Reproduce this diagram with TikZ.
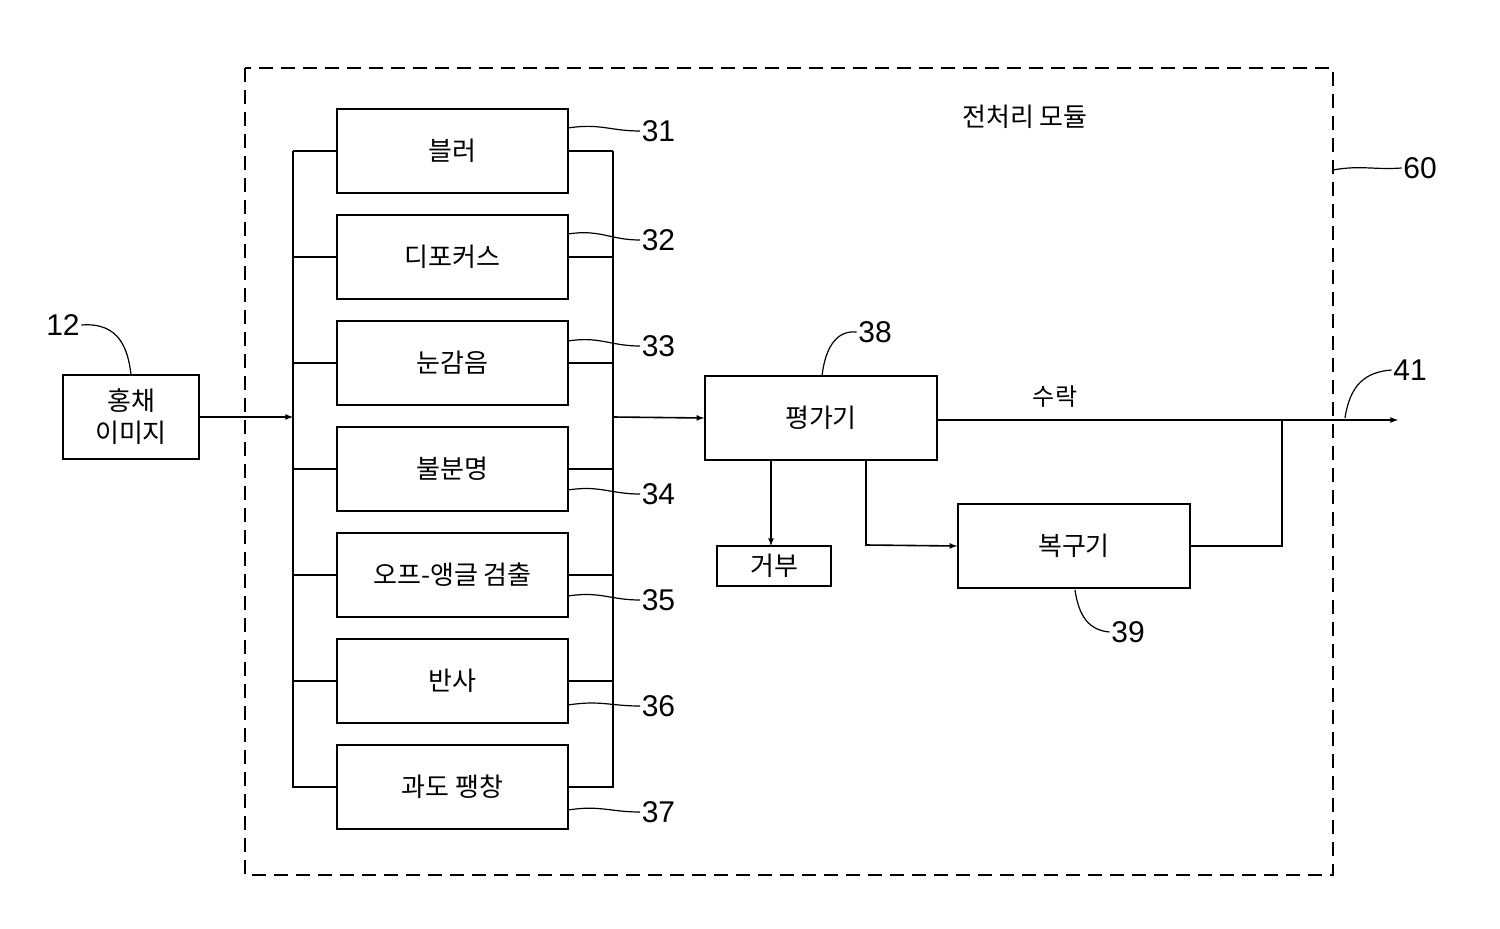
\documentclass[tikz,border=0pt]{standalone}
\usepackage{fontspec}
\setmainfont{Liberation Sans}
\newfontfamily\kr{Noto Sans CJK KR}
\begin{document}
\begin{tikzpicture}[x=1pt,y=-1pt,line width=1.6pt,
  box/.style={draw,minimum width=231pt,minimum height=84pt,inner sep=0pt,font=\kr\fontsize{26}{30}\selectfont},
  num/.style={font=\fontsize{30}{32}\selectfont,inner sep=1pt},
  lead/.style={line width=1.2pt},
  arr/.style={-latex}]
\useasboundingbox (0,0) rectangle (1500,929);
\draw[dashed,dash pattern=on 14pt off 8pt] (245,68) rectangle (1333,875);
\node[font=\kr\fontsize{26}{30}\selectfont] (title) at (1025,117) {전처리 모듈};
\node[draw,minimum width=136pt,minimum height=84pt,align=center,inner sep=0pt,font=\kr\fontsize{26}{32}\selectfont] (img) at (131,417) {홍채\\이미지};
\foreach \i/\t [count=\k from 0] in {31/블러,32/디포커스,33/눈감음,34/불분명,35/오프-앵글 검출,36/반사,37/과도 팽창}{
  \node[box] (b\i) at (452.5,{151+106*\k}) {\t};
  \draw (293,{151+106*\k}) -- (b\i.west);
  \draw (b\i.east) -- (613,{151+106*\k});
}
\draw (293,151) -- (293,788);
\draw (613,151) -- (613,788);
\coordinate (busL) at (293,417);
\coordinate (busR) at (613,417);
\draw[arr] (img.east) -- (busL);
\node[draw,minimum width=232pt,minimum height=84pt,inner sep=0pt,font=\kr\fontsize{26}{30}\selectfont] (ev) at (821,418) {평가기};
\draw[arr] (busR) -- (ev.west);
\node[draw,minimum width=114pt,minimum height=40pt,inner sep=0pt,font=\kr\fontsize{26}{30}\selectfont] (rej) at (774,566) {거부};
\draw[arr] (771,460) -- (771,546);
\node[draw,minimum width=232pt,minimum height=84pt,inner sep=0pt,font=\kr\fontsize{26}{30}\selectfont] (rest) at (1074,546) {복구기};
\draw[arr] (866,460) -- (866,545) -- (rest.west);
\coordinate (out) at (1398,420);
\draw[arr] (ev.east |- 0,420) -- (out);
\node[font=\kr\fontsize{24}{28}\selectfont] (acc) at (1055,397) {수락};
\draw (rest.east) -- (1282,546) -- (1282,420);
% labels
\foreach \i/\y/\ly in {31/128/131,32/234/240,33/341/346,34/490/494,35/596/600,36/705/706,37/810/812}{
  \node[num,anchor=west] (n\i) at (640,\ly) {\i};
  \draw[lead] (568,\y) .. controls (600,{\y-5}) and (610,\ly) .. (n\i.west);
}
\node[num] (n12) at (63,325) {12};
\draw[lead] (n12.east) .. controls (120,322) and (128,350) .. (img.north);
\node[num] (n38) at (875,332) {38};
\draw[lead] (n38.west) .. controls (835,330) and (825,350) .. (822,376);
\node[num] (n39) at (1128,632) {39};
\draw[lead] (n39.west) .. controls (1085,630) and (1078,610) .. (1075,590);
\node[num] (n60) at (1420,168) {60};
\draw[lead] (1333,170) .. controls (1360,165) and (1375,170) .. (n60.west);
\node[num] (n41) at (1410,370) {41};
\draw[lead] (1345,418) .. controls (1350,385) and (1365,372) .. (n41.west);
\end{tikzpicture}
\end{document}
